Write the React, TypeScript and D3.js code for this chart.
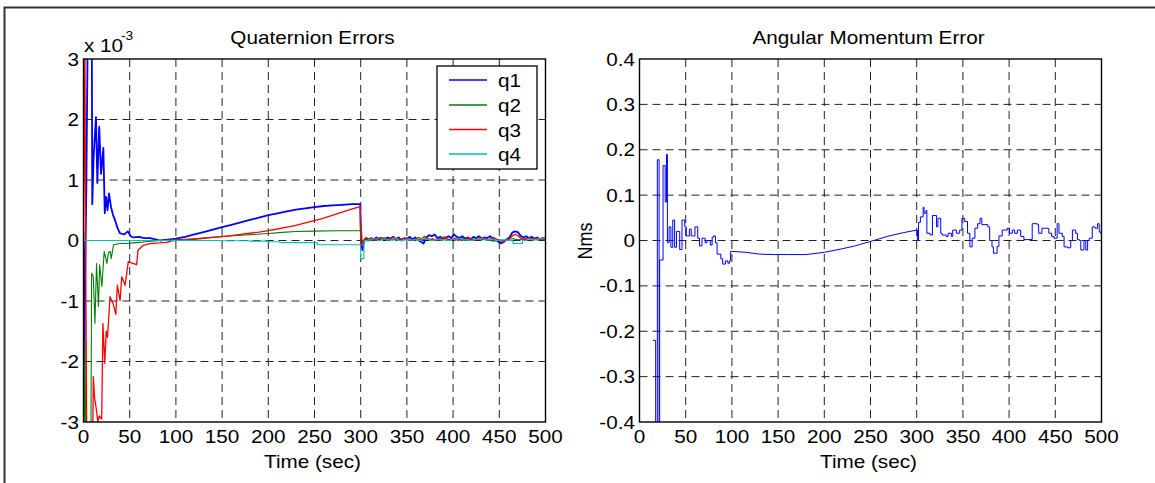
import React from 'react';
import * as d3 from 'd3';

// ---------- data ----------
const xTicks = [0, 50, 100, 150, 200, 250, 300, 350, 400, 450, 500];
const qYTicks = [-3, -2, -1, 0, 1, 2, 3];
const hYTicks = [-0.4, -0.3, -0.2, -0.1, 0, 0.1, 0.2, 0.3, 0.4];
const hYLabels = ['-0.4', '-0.3', '-0.2', '-0.1', '0', '0.1', '0.2', '0.3', '0.4'];
const seriesNames = ['q1', 'q2', 'q3', 'q4'];
const seriesColors = ['#0000ff', '#008000', '#ff0000', '#00bfbf'];

// quaternion errors (units of 1e-3)
const q1T = [0, 0.8, 2, 3, 4.5, 9, 9.5, 11, 13.5, 15, 17, 19, 21.5, 23, 24.5, 26, 27.6, 29.8, 32, 34, 37, 39.5, 44, 48, 51, 54, 60, 66, 72, 78, 83, 88, 94, 100, 110, 120, 130, 140, 150, 160, 170, 180, 190, 200, 210, 220, 230, 240, 250, 260, 270, 280, 290, 299.5,
  300.5, 302, 303, 305, 308, 311, 314, 317, 320, 323, 326, 329, 332, 335, 338, 341, 344, 347, 350, 353, 356, 359, 362, 365, 368, 371, 374, 377, 380, 383, 386, 389, 392, 395, 398, 401, 404, 407, 410, 413, 416, 419, 422, 425, 428, 431, 434, 437, 440, 443, 446, 449, 452, 455, 458, 461, 464, 467, 470, 473, 476, 479, 482, 485, 488, 491, 494, 497, 500];
const q1V = [0, -2.2, -0.3, 0.8, 3.3, 3.3, 0.6, 1.4, 2.04, 0.95, 1.88, 1.1, 1.53, 0.45, 0.72, 0.5, 0.78, 0.55, 0.42, 0.34, 0.2, 0.12, 0.1, 0.15, 0.07, 0.05, 0.06, 0.04, 0.04, 0.02, 0.0, 0.01, 0.02, 0.03, 0.06, 0.1, 0.14, 0.18, 0.22, 0.26, 0.3, 0.34, 0.38, 0.42, 0.45, 0.48, 0.51, 0.53, 0.55, 0.57, 0.58, 0.59, 0.6, 0.6,
  -0.1, -0.16, -0.05, 0.03, 0.0, 0.04, 0.02, 0.05, 0.01, 0.04, 0.02, 0.05, 0.03, 0.06, 0.02, 0.05, 0.0, 0.04, 0.03, 0.06, 0.02, 0.05, 0.01, -0.02, -0.05, 0.05, 0.09, 0.07, 0.1, 0.04, 0.06, 0.03, 0.05, 0.07, 0.04, 0.1, 0.06, 0.04, 0.07, 0.03, 0.05, 0.02, 0.06, 0.04, 0.07, 0.03, 0.05, 0.04, 0.07, 0.03, 0.02, -0.02, -0.05, -0.02, 0.02, 0.05, 0.13, 0.15, 0.14, 0.08, 0.05, 0.07, 0.04, 0.06, 0.03, 0.05, 0.02, 0.04, 0.03];

const q2T = [0, 0.7, 1.5, 2.5, 8, 8.8, 10.6, 12.4, 14.1, 16.2, 17.5, 19.9, 22.4, 25.3, 27, 28.9, 30, 32.5, 39.7, 47, 54, 68.6, 83, 97, 110, 125, 150, 175, 200, 215, 230, 250, 275, 299.5,
  300.5, 301.5, 303, 305, 310, 315, 320, 325, 330, 335, 340, 345, 350, 355, 360, 365, 370, 375, 380, 385, 390, 395, 400, 405, 410, 415, 420, 425, 430, 435, 440, 445, 450, 455, 460, 465, 470, 475, 480, 485, 490, 495, 500];
const q2V = [-2.1, -3.3, -1.64, -3.3, -3.3, -0.54, -0.6, -1.37, -0.38, -1.09, -0.4, -0.76, -0.18, -0.38, -0.2, -0.18, -0.3, -0.07, -0.05, -0.05, -0.04, -0.02, 0.0, 0.01, 0.02, 0.035, 0.065, 0.09, 0.115, 0.135, 0.15, 0.155, 0.16, 0.16,
  0.28, 0.0, -0.05, 0.02, 0.03, 0.01, 0.02, 0.04, 0.03, 0.01, 0.02, 0.03, 0.01, 0.0, 0.02, 0.01, 0.03, 0.02, 0.0, 0.01, 0.03, 0.02, 0.01, 0.02, 0.0, 0.01, 0.02, 0.03, 0.01, 0.02, 0.0, -0.01, 0.01, 0.0, 0.02, 0.03, 0.01, 0.02, 0.04, 0.02, 0.03, 0.02, 0.02];

const q3T = [0, 1.5, 2.5, 3.5, 10, 10.6, 12, 14, 15.5, 17, 19.7, 21, 23, 24.6, 26, 28.7, 32, 35, 36.6, 39.6, 41.4, 45, 48.5, 52, 57.5, 59, 64.7, 72, 83, 90, 97, 110, 120, 130, 140, 150, 160, 170, 180, 190, 200, 210, 220, 230, 240, 250, 260, 270, 280, 290, 299.5,
  300, 301, 303, 306, 309, 312, 315, 318, 321, 324, 327, 330, 333, 336, 339, 342, 345, 348, 351, 354, 357, 360, 363, 366, 369, 372, 375, 378, 381, 384, 387, 390, 393, 396, 399, 402, 405, 408, 411, 414, 417, 420, 423, 426, 429, 432, 435, 438, 441, 444, 447, 450, 453, 456, 459, 462, 465, 468, 471, 474, 477, 480, 483, 486, 489, 492, 495, 498, 500];
const q3V = [0, 3.3, -0.6, -3.3, -3.3, -2.25, -2.6, -2.8, -3.0, -2.9, -2.95, -1.37, -2.03, -1.5, -1.6, -0.93, -1.04, -1.22, -0.74, -0.99, -0.6, -0.74, -0.35, -0.37, -0.4, -0.16, -0.08, -0.05, -0.04, -0.03, 0.0, 0.01, 0.02, 0.035, 0.05, 0.065, 0.08, 0.1, 0.12, 0.14, 0.165, 0.19, 0.22, 0.25, 0.29, 0.33, 0.37, 0.42, 0.47, 0.52, 0.56,
  -0.05, -0.08, 0.0, 0.05, 0.02, 0.04, 0.0, 0.03, 0.05, 0.02, 0.04, 0.01, 0.03, 0.06, 0.02, 0.0, 0.03, 0.01, 0.04, 0.02, 0.0, 0.03, 0.05, 0.02, 0.07, 0.04, 0.01, 0.03, 0.0, 0.02, 0.04, 0.06, 0.03, 0.01, 0.02, 0.04, 0.0, 0.02, 0.03, 0.01, 0.04, 0.02, 0.0, 0.03, 0.05, 0.02, 0.04, 0.01, 0.03, 0.05, 0.02, 0.0, -0.03, 0.0, 0.02, 0.04, 0.09, 0.1, 0.07, 0.03, 0.01, 0.03, 0.05, 0.02, 0.04, 0.01, 0.03, 0.02, 0.01];

const q4T = [0, 0.8, 50, 100, 150, 180, 200, 212, 213, 252, 253, 299.5,
  300, 303, 303.5, 308, 312, 318, 322, 328, 335, 340, 346, 352, 358, 362, 366, 370, 375, 380, 386, 392, 398, 404, 410, 416, 422, 428, 434, 440, 446, 452, 458, 464, 465, 474, 475, 480, 486, 492, 500];
const q4V = [0.12, 0.0, 0.0, 0.0, -0.005, -0.01, -0.02, -0.03, -0.035, -0.035, -0.07, -0.07,
  -0.3, -0.3, 0.0, 0.01, 0.03, 0.0, 0.02, 0.01, 0.03, 0.0, 0.02, 0.01, 0.02, 0.0, 0.04, 0.02, 0.0, 0.02, 0.01, 0.0, 0.02, 0.03, 0.01, 0.0, 0.02, 0.03, 0.01, 0.02, 0.0, 0.01, 0.0, -0.01, -0.05, -0.05, 0.0, 0.02, 0.01, 0.03, 0.02];

// angular momentum error (Nms)
const hEarlyT = [14.5, 17.5, 19.3, 21.2, 21.8, 25.5, 27.8, 29.2, 30.2, 32, 34, 36, 38, 40, 43.5, 46, 49, 50.6, 54, 56, 60, 63, 65, 67.6, 71, 73, 76.7, 78.6, 80, 82.2, 84, 88, 90, 93, 95.6, 97.4, 98.6, 100];
const hEarlyV = [-0.22, -0.45, 0.178, -0.45, -0.043, 0.165, 0.085, 0.19, -0.005, 0.03, -0.015, 0.045, -0.015, 0.02, -0.02, 0.045, 0.03, 0.01, 0.025, 0.01, 0.03, 0.005, -0.012, 0.005, -0.005, 0.0, -0.01, 0.007, 0.01, -0.005, -0.03, -0.04, -0.052, -0.045, -0.05, -0.045, -0.024, -0.024];
const hArcT = [100, 115, 130, 145, 160, 180, 200, 220, 233, 250, 270, 285, 300];
const hArcV = [-0.024, -0.026, -0.03, -0.031, -0.031, -0.031, -0.026, -0.018, -0.012, -0.002, 0.01, 0.017, 0.023];
const hLateT = [300, 300.8, 302, 304, 307, 308, 310, 311, 314.5, 317, 321.5, 323, 326, 327.5, 332, 334, 337.5, 339, 343, 346.5, 349, 352, 355, 357.5, 360, 363, 366, 368.5, 370.5, 377, 379, 381.5, 383, 387, 389, 392.5, 394, 398, 400.5, 403.5, 406, 409, 412.5, 416, 421.5, 425, 430.6, 432, 435.5, 438, 443, 446, 448.6, 452, 454, 457.6, 459.5, 463, 466.7, 468.5, 472, 474, 476, 477.6, 481, 483, 485, 486.7, 490, 493, 495.7, 497.5, 499, 500];
const hLateV = [0.023, 0.0, 0.04, 0.052, 0.073, 0.06, 0.066, 0.016, 0.012, 0.055, 0.03, 0.049, 0.016, 0.012, 0.009, 0.016, 0.009, 0.023, 0.016, 0.023, 0.049, 0.042, 0.016, -0.014, 0.005, 0.027, 0.037, 0.049, 0.035, 0.03, 0.0, -0.014, -0.028, -0.013, 0.01, 0.023, 0.023, 0.027, 0.016, 0.023, 0.016, 0.023, 0.009, 0.002, 0.002, 0.037, 0.035, 0.016, 0.027, 0.027, 0.016, 0.009, 0.005, 0.037, 0.016, 0.009, -0.014, -0.016, 0.0, 0.023, 0.016, 0.002, 0.0, -0.021, 0.0, -0.021, 0.0, 0.005, 0.03, 0.027, 0.037, 0.019, 0.016, 0.016];

// ---------- layout ----------
const W = 1155;
const H = 483;
const FS = 18;
const SX = 1.15;
const FONT = "'Liberation Sans', Arial, Helvetica, sans-serif";
const TOP = 59;
const BOTTOM = 422;

type TProps = { x: number; y: number; anchor?: string; fs?: number; rot?: boolean; children: React.ReactNode };
const T = ({ x, y, anchor = 'middle', fs = FS, rot = false, children }: TProps) => (
  <text
    transform={rot ? `translate(${x},${y}) rotate(-90) scale(1,${SX})` : `translate(${x},${y}) scale(${SX},1)`}
    textAnchor={anchor as any}
    fontSize={fs}
    fontFamily={FONT}
    fill="#000"
  >
    {children}
  </text>
);

type Series = { t: number[]; v: number[]; color: string; width: number; curve: d3.CurveFactory };

function Panel({ id, x0, x1, yDomain, yTicks, yLabels, series, title }: {
  id: string; x0: number; x1: number; yDomain: [number, number]; yTicks: number[]; yLabels: string[]; series: Series[]; title: string;
}) {
  const xs = d3.scaleLinear().domain([0, 500]).range([x0, x1]);
  const ys = d3.scaleLinear().domain(yDomain).range([BOTTOM, TOP]);
  const paths = series.map((s) => {
    const pts = s.t.map((t, i) => [t, s.v[i]] as [number, number]);
    const line = d3.line<[number, number]>().x((d) => xs(d[0])).y((d) => ys(d[1])).curve(s.curve);
    return line(pts) || '';
  });
  return (
    <g>
      <defs>
        <clipPath id={id}>
          <rect x={x0} y={TOP} width={x1 - x0} height={BOTTOM - TOP} />
        </clipPath>
      </defs>
      <rect x={x0} y={TOP} width={x1 - x0} height={BOTTOM - TOP} fill="#fff" />
      {xTicks.slice(1, -1).map((t) => (
        <line key={'gx' + t} x1={xs(t)} x2={xs(t)} y1={TOP} y2={BOTTOM} stroke="#222" strokeWidth={1} strokeDasharray="8,5" />
      ))}
      {yTicks.slice(1, -1).map((t) => (
        <line key={'gy' + t} x1={x0} x2={x1} y1={ys(t)} y2={ys(t)} stroke="#222" strokeWidth={1} strokeDasharray="8,5" />
      ))}
      <g clipPath={`url(#${id})`}>
        {paths.map((d, i) => (
          <path key={i} d={d} fill="none" stroke={series[i].color} strokeWidth={series[i].width} strokeLinejoin="round" />
        ))}
      </g>
      <rect x={x0} y={TOP} width={x1 - x0} height={BOTTOM - TOP} fill="none" stroke="#000" strokeWidth={1.4} />
      {xTicks.map((t) => (
        <T key={'xl' + t} x={xs(t)} y={BOTTOM + 21}>{t}</T>
      ))}
      {yTicks.map((t, i) => (
        <T key={'yl' + t} x={x0 - 4.5} y={ys(t) + 6.5} anchor="end">{yLabels[i]}</T>
      ))}
      <T x={(x0 + x1) / 2 - 2} y={44}>{title}</T>
      <T x={(x0 + x1) / 2 - 2} y={468}>Time (sec)</T>
    </g>
  );
}

export default function App() {
  const qSeries: Series[] = [
    { t: q1T, v: q1V, color: seriesColors[0], width: 1.8, curve: d3.curveLinear },
    { t: q2T, v: q2V, color: seriesColors[1], width: 1.1, curve: d3.curveLinear },
    { t: q3T, v: q3V, color: seriesColors[2], width: 1.3, curve: d3.curveLinear },
    { t: q4T, v: q4V, color: seriesColors[3], width: 1.1, curve: d3.curveStepAfter },
  ];
  const hSeries: Series[] = [
    { t: hEarlyT, v: hEarlyV, color: '#0000ff', width: 1, curve: d3.curveStepAfter },
    { t: hArcT, v: hArcV, color: '#0000ff', width: 1, curve: d3.curveLinear },
    { t: hLateT, v: hLateV, color: '#0000ff', width: 1, curve: d3.curveStepAfter },
  ];
  const legX = 437, legY = 66, legW = 100, legH = 103;
  const legRows = [80, 105, 129.5, 154];
  return (
    <svg width={W} height={H} style={{ position: 'absolute', left: 0, top: 0, background: '#fff' }}>
      <rect x={0} y={0} width={W} height={H} fill="#fff" />
      <path d={`M4.5,${H + 2} L4.5,7.5 L${W + 2},7.5`} fill="none" stroke="#333" strokeWidth={2} />
      <Panel id="clipL" x0={83.5} x1={545.5} yDomain={[-3, 3]} yTicks={qYTicks} yLabels={qYTicks.map(String)} series={qSeries} title="Quaternion Errors" />
      <Panel id="clipR" x0={639.5} x1={1101.5} yDomain={[-0.4, 0.4]} yTicks={hYTicks} yLabels={hYLabels} series={hSeries} title="Angular Momentum Error" />
      <T x={84} y={52} anchor="start">x 10</T>
      <T x={121} y={40} anchor="start" fs={12}>-3</T>
      <T x={592} y={241} rot>Nms</T>
      <rect x={legX} y={legY} width={legW} height={legH} fill="#fff" stroke="#000" strokeWidth={1.3} />
      {seriesNames.map((n, i) => (
        <g key={n}>
          <line x1={449} x2={487} y1={legRows[i]} y2={legRows[i]} stroke={seriesColors[i]} strokeWidth={1.3} />
          <T x={498} y={legRows[i] + 7} anchor="start">{n}</T>
        </g>
      ))}
    </svg>
  );
}
